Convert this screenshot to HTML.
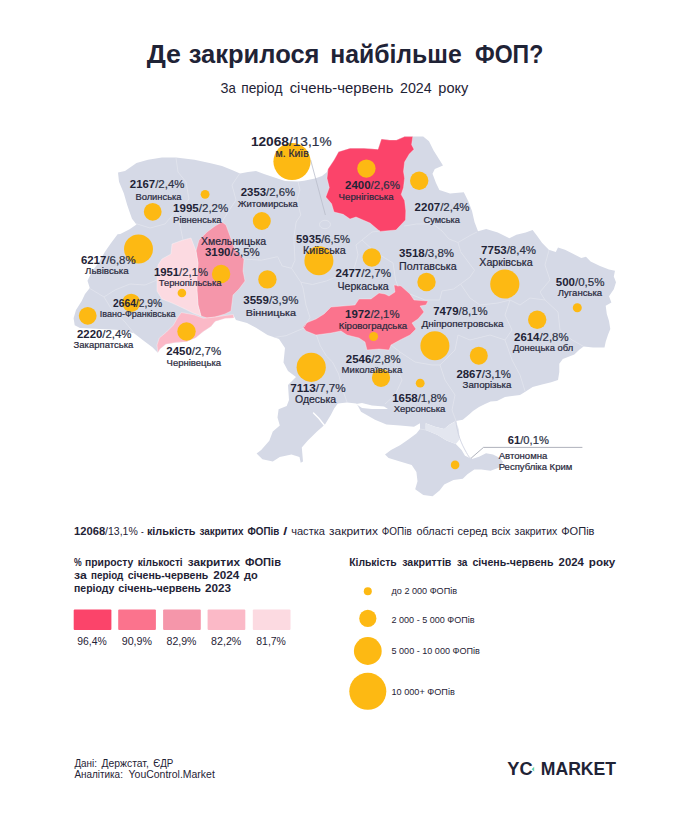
<!DOCTYPE html>
<html lang="uk"><head><meta charset="utf-8"><title>Де закрилося найбільше ФОП?</title>
<style>html,body{margin:0;padding:0;background:#fff}body{width:690px;height:819px;overflow:hidden}svg{display:block}text{font-family:"Liberation Sans",sans-serif;fill:#1f2336}.b{font-weight:700}</style></head><body>
<svg width="690" height="819" viewBox="0 0 690 819">
<rect width="690" height="819" fill="#fff"/>
<text class="b" x="146.7" y="63" font-size="25.2" textLength="34.3" lengthAdjust="spacingAndGlyphs">Де</text>
<text class="b" x="188.7" y="63" font-size="25.2" textLength="130.8" lengthAdjust="spacingAndGlyphs">закрилося</text>
<text class="b" x="330.2" y="63" font-size="25.2" textLength="131.5" lengthAdjust="spacingAndGlyphs">найбільше</text>
<text class="b" x="475" y="63" font-size="25.2" textLength="68.3" lengthAdjust="spacingAndGlyphs">ФОП?</text>
<text x="220.6" y="92.8" font-size="14.8" textLength="15.3" lengthAdjust="spacingAndGlyphs">За</text>
<text x="241.3" y="92.8" font-size="14.8" textLength="41.1" lengthAdjust="spacingAndGlyphs">період</text>
<text x="289.7" y="92.8" font-size="14.8" textLength="103.8" lengthAdjust="spacingAndGlyphs">січень-червень</text>
<text x="400" y="92.8" font-size="14.8" textLength="31.7" lengthAdjust="spacingAndGlyphs">2024</text>
<text x="438.3" y="92.8" font-size="14.8" textLength="30.0" lengthAdjust="spacingAndGlyphs">року</text>
<g stroke-linejoin="round">
<polygon points="118,172.5 125,171 136.5,163 148,159.7 162,157.4 176,157.6 194.5,159.7 210.7,163.2 222,166 232,170 240,173.5 248,172 256,171 264,174 273,177 285,181 298,181.5 304,180.8 315,178.6 322,176 327,172 328,169 334,160 338.6,151.7 350,148.2 364,148.2 378,149.3 381.4,139 389.6,140 396.5,140 404.6,136.6 412.8,136.6 423.2,136.6 429,141.2 433.6,150.5 439.4,159.8 443,165.6 434.8,169 432.5,173.7 436,183 439.4,190 450,193.4 463.8,192.2 468.4,201.5 472,211 474.5,222 478,231.2 486.2,229 497.8,232.4 509.4,238.2 516.4,234.7 525.7,232.4 532.6,230 537.2,236 542,242.8 548.8,249.8 555.8,252 558,247.5 565,249.8 572,253.3 581.3,258 586,256.7 590.6,261.4 600,266 609,269.5 615,270.7 613.8,276.4 616,282.2 613.8,289.2 609,296.2 611.4,302.5 605.7,305.8 606.8,314 609,321 610.3,329 608,334.8 605.7,341.7 604.5,347.5 593,347.5 583.6,346.4 579,350 574.3,354.5 562.8,359 559.3,363.8 559.3,372 558,380 551.2,382.3 542,384.6 532.6,387 525.7,391.6 520,395 505,397 497,401 490.6,401.5 485,404 479,407 473,411 469.7,414 462.8,419.7 455.8,421 450,424.3 444.2,429 435,426.7 425.7,423.2 425.7,430 437.2,434.8 446.5,440.6 455.8,444 461.6,450 465,455.7 472,459 479,456.8 486,453.3 493,454.5 500,458 503,462 500,467.2 490.6,470.7 481.3,469.6 474.3,469.6 467.4,474.2 462.8,478.8 453.5,480 444.2,484.6 439.6,490.4 432.6,496.2 423.3,495 415.2,489.3 417.5,481.2 416.4,472 411.7,465 400,461.4 388.6,458 385,454.5 391,450 400,445.2 408.3,439.4 416.4,433.6 420,429 420,423.2 414,426.7 400,425.5 386.4,424.4 375,419.8 361,411.7 358,406 356.3,403.6 347,402.4 337.8,403.6 334.3,408.2 330.8,415 325,424.4 317,431.4 307.6,440.7 301.8,447.6 303,461.5 300.7,462.7 299.5,457 291.4,454.6 279.8,457 272.8,461.5 262.4,459.2 256.6,453.4 261.2,450 269.3,440.7 272.8,431.4 279.8,425.6 277.5,417.5 278.6,409.3 286.7,406 289,400 288,385 296,377 288,371 283.5,362.5 285,348 279,339 267.5,335 256,327.7 247,323 236,320 233.5,315.5 225,318 215,321.5 211,326.6 203,331.7 195.7,337.8 186.5,341.7 176,342.4 165.7,344.3 160,349 157.8,352.8 152.4,347.2 143,340.3 134,333.3 120,330 100,329 80,328 74.7,325.2 73.6,318.3 76,310 81.7,301 85,294 89.8,288 87.5,280.7 92,271.4 99,262 105,251.7 110.7,243.6 117.6,234.3 120.3,233.9 129.6,229.3 136.5,224.6 132,218.8 129.6,212 127.2,205 123.8,193.3 119,181.7" fill="#d5d9e6"/>
<polygon points="338.6,151.7 350,148.2 364,148.2 378,149.3 381.4,139 389.6,140 396.5,140 404.6,136.6 412.8,136.6 411.6,144.7 414,149.3 409.3,154 404.6,162 403.5,171.4 404.6,178.3 403.5,187.6 401.2,194.6 404.6,200.4 405.8,210.8 405.5,220 396,230 380,231.4 370,223 356,217 350,219 343.2,214.3 334,212 331.6,203.8 325.8,197 329.3,187.6 327,178.3 328,169 334,160" fill="#fb446a" stroke="rgba(255,255,255,0.4)" stroke-width="0.8"/>
<polygon points="303,327 306,323 316,319 324,314 331,307 343,306 355,305 359,299 371,299 379,293 385,294 389,296 395,292 394,285 401,286 410,294 414,300 428,301 426,305 420,306 424,312 418,319 412,323 416,329 410,335 400,340 391,345 389,350 379,349 367,350 365,342 359,338 347,335 341,331 331,333 316,335 306,331" fill="#fb738d" stroke="rgba(255,255,255,0.4)" stroke-width="0.8"/>
<polygon points="222,222 226,225 230,236 235,250 244,259 243,271 245,281 239,289 233,295 231,311 225,314 215,317 207,318 201,316 198,305 197,291 197,277 198,263 196,251 199,240 207,232 215,226" fill="#f596aa" stroke="rgba(255,255,255,0.4)" stroke-width="0.8"/>
<polygon points="181.4,312.5 194,314.8 203.4,318.3 215,317.1 225,315.5 233.3,314.5 234,318 225,318.5 215,321.5 211,326.6 203,331.7 195.7,337.8 186.5,341.7 176,342.4 165.7,344.3 160,349 157.8,352.8 157,345 159.3,338 166.3,332.2 173.3,325.2 178,317" fill="#fbb9c7" stroke="rgba(255,255,255,0.4)" stroke-width="0.8"/>
<polygon points="196,251 191,238 183,240 172,244 171,254 162,259 158,265 157,277 157,291 162,299 172,303 185,309 193,313 201,316 198,305 197,291 197,277 198,263" fill="#fcdae1" stroke="rgba(255,255,255,0.4)" stroke-width="0.8"/>
</g>
<defs><clipPath id="uk"><polygon points="118,172.5 125,171 136.5,163 148,159.7 162,157.4 176,157.6 194.5,159.7 210.7,163.2 222,166 232,170 240,173.5 248,172 256,171 264,174 273,177 285,181 298,181.5 304,180.8 315,178.6 322,176 327,172 328,169 334,160 338.6,151.7 350,148.2 364,148.2 378,149.3 381.4,139 389.6,140 396.5,140 404.6,136.6 412.8,136.6 423.2,136.6 429,141.2 433.6,150.5 439.4,159.8 443,165.6 434.8,169 432.5,173.7 436,183 439.4,190 450,193.4 463.8,192.2 468.4,201.5 472,211 474.5,222 478,231.2 486.2,229 497.8,232.4 509.4,238.2 516.4,234.7 525.7,232.4 532.6,230 537.2,236 542,242.8 548.8,249.8 555.8,252 558,247.5 565,249.8 572,253.3 581.3,258 586,256.7 590.6,261.4 600,266 609,269.5 615,270.7 613.8,276.4 616,282.2 613.8,289.2 609,296.2 611.4,302.5 605.7,305.8 606.8,314 609,321 610.3,329 608,334.8 605.7,341.7 604.5,347.5 593,347.5 583.6,346.4 579,350 574.3,354.5 562.8,359 559.3,363.8 559.3,372 558,380 551.2,382.3 542,384.6 532.6,387 525.7,391.6 520,395 505,397 497,401 490.6,401.5 485,404 479,407 473,411 469.7,414 462.8,419.7 455.8,421 450,424.3 444.2,429 435,426.7 425.7,423.2 425.7,430 437.2,434.8 446.5,440.6 455.8,444 461.6,450 465,455.7 472,459 479,456.8 486,453.3 493,454.5 500,458 503,462 500,467.2 490.6,470.7 481.3,469.6 474.3,469.6 467.4,474.2 462.8,478.8 453.5,480 444.2,484.6 439.6,490.4 432.6,496.2 423.3,495 415.2,489.3 417.5,481.2 416.4,472 411.7,465 400,461.4 388.6,458 385,454.5 391,450 400,445.2 408.3,439.4 416.4,433.6 420,429 420,423.2 414,426.7 400,425.5 386.4,424.4 375,419.8 361,411.7 358,406 356.3,403.6 347,402.4 337.8,403.6 334.3,408.2 330.8,415 325,424.4 317,431.4 307.6,440.7 301.8,447.6 303,461.5 300.7,462.7 299.5,457 291.4,454.6 279.8,457 272.8,461.5 262.4,459.2 256.6,453.4 261.2,450 269.3,440.7 272.8,431.4 279.8,425.6 277.5,417.5 278.6,409.3 286.7,406 289,400 288,385 296,377 288,371 283.5,362.5 285,348 279,339 267.5,335 256,327.7 247,323 236,320 233.5,315.5 225,318 215,321.5 211,326.6 203,331.7 195.7,337.8 186.5,341.7 176,342.4 165.7,344.3 160,349 157.8,352.8 152.4,347.2 143,340.3 134,333.3 120,330 100,329 80,328 74.7,325.2 73.6,318.3 76,310 81.7,301 85,294 89.8,288 87.5,280.7 92,271.4 99,262 105,251.7 110.7,243.6 117.6,234.3 120.3,233.9 129.6,229.3 136.5,224.6 132,218.8 129.6,212 127.2,205 123.8,193.3 119,181.7"/></clipPath></defs>
<g clip-path="url(#uk)" fill="none" stroke="#e2e5ee" stroke-width="0.8" stroke-linejoin="round">
<polyline points="176,158 178,172 186,182 189,199 183,206 176,211"/>
<polyline points="134,223 150,228 165,224 176,211 180,225 183,240"/>
<polyline points="240,173 232,185 236,200 228,212 222,222"/>
<polyline points="157,280 145,285 130,284 115,290 104,297 89,288"/>
<polyline points="104,297 112,310 125,322 134,333"/>
<polyline points="244,259 261.4,260.2 277.6,256.7 282.2,266 291.5,268.3 295,260.2 293.8,238.2 296.2,222 300.8,215 297,200 300,190 298,181.5"/>
<polyline points="291.5,268.3 300.8,282.2 312.4,284.5 326.3,281 340.2,275.3 354.1,268.3 358,255 356,245 362,240 372,232 380,231"/>
<polyline points="300.8,282.2 303,288 306,305 310,317.5 304,327"/>
<polyline points="304,328 286,335.7 272.7,337.7"/>
<polyline points="362,240 375,252 393,263 395.6,280 398,286.5"/>
<polyline points="404,226 416.5,224 433,224 442,231 449,239 458,242.5 470,235.5 477,232"/>
<polyline points="458,242.5 460.6,251.7 467.5,261 474.5,270.3 470,277 460.6,284 453.6,289 442,291 439.7,300"/>
<polyline points="410,294 425,300 439.7,300"/>
<polyline points="549,250 545,265 550,280 540,292 545,300 530,298 520,305 510,300 498,303 480,305 470,298 460.6,284"/>
<polyline points="545,300 558,312 560,330 572,340 583,346"/>
<polyline points="510,300 505,315 512,330 505,340 490,335 470,340 458,335 455,350 440,365 432,365 415,362 400,352 391,345"/>
<polyline points="505,340 512,360 520,375 525,391"/>
<polyline points="440,365 445,380 455,395 452,410 456,421"/>
<polyline points="400,352 395,365 402,380 395,395 385,404"/>
<polyline points="316.4,334.9 320.3,345.8 326.4,356 332.5,362 338.6,374 342,388 347,402"/>
<polyline points="420,429 426,430"/>
</g>
<polygon points="426,423.5 435,426.7 444,429 450,424.5 456,421 459,430 459.5,439.5 455.8,444 446.5,440.6 437.2,434.8 426,430.2" fill="#e3e6ef"/>
<path d="M455.8,421 C457,430 459,439 465,450 S470,457 472,458.5" fill="none" stroke="#cfd3e1" stroke-width="0.9"/>
<polygon points="356,404 362,403 372,405.5 384,406.5 388,409 372,409 362,408" fill="#fff"/>
<path d="M313.5,413 L319,418.5 L324.5,425.5" fill="none" stroke="#fff" stroke-width="1.4" stroke-linecap="round"/>
<ellipse cx="325" cy="224.5" rx="5.5" ry="4.2" fill="none" stroke="#e2e5ee" stroke-width="0.8"/>
<path d="M310.6,159.8 L325.4,215" stroke="#b9bdca" stroke-width="0.8" fill="none"/>
<path d="M582.4,447.4 L483.5,447.4 L471.3,458" stroke="#9a9eab" stroke-width="0.8" fill="none"/>
<circle cx="292" cy="161.5" r="18.6" fill="#fdb913"/>
<circle cx="366.4" cy="168.6" r="9.2" fill="#fdb913"/>
<circle cx="419.2" cy="180.7" r="9.2" fill="#fdb913"/>
<circle cx="152.7" cy="211.8" r="8.9" fill="#fdb913"/>
<circle cx="205.1" cy="194.3" r="4.4" fill="#fdb913"/>
<circle cx="261.8" cy="221" r="9" fill="#fdb913"/>
<circle cx="138.5" cy="248.9" r="14.5" fill="#fdb913"/>
<circle cx="221.1" cy="274" r="9.2" fill="#fdb913"/>
<circle cx="181.9" cy="293" r="4.3" fill="#fdb913"/>
<circle cx="267.4" cy="279.4" r="9.2" fill="#fdb913"/>
<circle cx="318.9" cy="260.7" r="14.5" fill="#fdb913"/>
<circle cx="371.8" cy="257.5" r="9.2" fill="#fdb913"/>
<circle cx="426.5" cy="282" r="9.2" fill="#fdb913"/>
<circle cx="504.8" cy="284" r="14.6" fill="#fdb913"/>
<circle cx="577.3" cy="307.7" r="4.5" fill="#fdb913"/>
<circle cx="537.2" cy="319.7" r="9.2" fill="#fdb913"/>
<circle cx="434.9" cy="345.8" r="14.5" fill="#fdb913"/>
<circle cx="478.8" cy="355.7" r="9" fill="#fdb913"/>
<circle cx="373.6" cy="336.5" r="4.5" fill="#fdb913"/>
<circle cx="381" cy="377.8" r="9.1" fill="#fdb913"/>
<circle cx="420.2" cy="383.2" r="4.4" fill="#fdb913"/>
<circle cx="311.2" cy="367.3" r="14.6" fill="#fdb913"/>
<circle cx="455.1" cy="464.9" r="4.3" fill="#fdb913"/>
<circle cx="131.2" cy="302.8" r="9.1" fill="#fdb913"/>
<circle cx="87.7" cy="315.8" r="8.9" fill="#fdb913"/>
<circle cx="186.5" cy="331.5" r="9.2" fill="#fdb913"/>
<text x="250.9" y="146" font-size="13.42" textLength="80.7" lengthAdjust="spacingAndGlyphs"><tspan class="b">12068</tspan><tspan fill="#2c3145" stroke="#2c3145" stroke-width="0.2">/13,1%</tspan></text>
<text x="129.8" y="188.2" font-size="11.20" textLength="54.6" lengthAdjust="spacingAndGlyphs"><tspan class="b">2167</tspan><tspan fill="#2c3145" stroke="#2c3145" stroke-width="0.2">/2,4%</tspan></text>
<text x="173.1" y="211.8" font-size="11.31" textLength="55.2" lengthAdjust="spacingAndGlyphs"><tspan class="b">1995</tspan><tspan fill="#2c3145" stroke="#2c3145" stroke-width="0.2">/2,2%</tspan></text>
<text x="240.8" y="196.1" font-size="11.20" textLength="54.4" lengthAdjust="spacingAndGlyphs"><tspan class="b">2353</tspan><tspan fill="#2c3145" stroke="#2c3145" stroke-width="0.2">/2,6%</tspan></text>
<text x="204.9" y="256.2" font-size="11.23" textLength="54.8" lengthAdjust="spacingAndGlyphs"><tspan class="b">3190</tspan><tspan fill="#2c3145" stroke="#2c3145" stroke-width="0.2">/3,5%</tspan></text>
<text x="296.1" y="243.2" font-size="11.20" textLength="53.9" lengthAdjust="spacingAndGlyphs"><tspan class="b">5935</tspan><tspan fill="#2c3145" stroke="#2c3145" stroke-width="0.2">/6,5%</tspan></text>
<text x="80.9" y="263.6" font-size="11.21" textLength="54.7" lengthAdjust="spacingAndGlyphs"><tspan class="b">6217</tspan><tspan fill="#2c3145" stroke="#2c3145" stroke-width="0.2">/6,8%</tspan></text>
<text x="153.9" y="276.2" font-size="11.20" textLength="54.1" lengthAdjust="spacingAndGlyphs"><tspan class="b">1951</tspan><tspan fill="#2c3145" stroke="#2c3145" stroke-width="0.2">/2,1%</tspan></text>
<text x="113" y="306.6" font-size="11.20" textLength="49.1" lengthAdjust="spacingAndGlyphs"><tspan class="b">2664</tspan><tspan fill="#2c3145" stroke="#2c3145" stroke-width="0.2">/2,9%</tspan></text>
<text x="243.3" y="303.6" font-size="11.29" textLength="55.1" lengthAdjust="spacingAndGlyphs"><tspan class="b">3559</tspan><tspan fill="#2c3145" stroke="#2c3145" stroke-width="0.2">/3,9%</tspan></text>
<text x="345" y="188.8" font-size="11.27" textLength="55" lengthAdjust="spacingAndGlyphs"><tspan class="b">2400</tspan><tspan fill="#2c3145" stroke="#2c3145" stroke-width="0.2">/2,6%</tspan></text>
<text x="414.6" y="210.8" font-size="11.27" textLength="55.0" lengthAdjust="spacingAndGlyphs"><tspan class="b">2207</tspan><tspan fill="#2c3145" stroke="#2c3145" stroke-width="0.2">/2,4%</tspan></text>
<text x="399.1" y="257.1" font-size="11.27" textLength="55.0" lengthAdjust="spacingAndGlyphs"><tspan class="b">3518</tspan><tspan fill="#2c3145" stroke="#2c3145" stroke-width="0.2">/3,8%</tspan></text>
<text x="481.1" y="254.4" font-size="11.27" textLength="55.0" lengthAdjust="spacingAndGlyphs"><tspan class="b">7753</tspan><tspan fill="#2c3145" stroke="#2c3145" stroke-width="0.2">/8,4%</tspan></text>
<text x="555.8" y="285.7" font-size="11.29" textLength="48.7" lengthAdjust="spacingAndGlyphs"><tspan class="b">500</tspan><tspan fill="#2c3145" stroke="#2c3145" stroke-width="0.2">/0,5%</tspan></text>
<text x="335.5" y="277.2" font-size="11.37" textLength="55.5" lengthAdjust="spacingAndGlyphs"><tspan class="b">2477</tspan><tspan fill="#2c3145" stroke="#2c3145" stroke-width="0.2">/2,7%</tspan></text>
<text x="345.1" y="318.3" font-size="11.20" textLength="54.5" lengthAdjust="spacingAndGlyphs"><tspan class="b">1972</tspan><tspan fill="#2c3145" stroke="#2c3145" stroke-width="0.2">/2,1%</tspan></text>
<text x="433.2" y="314.8" font-size="11.20" textLength="54.5" lengthAdjust="spacingAndGlyphs"><tspan class="b">7479</tspan><tspan fill="#2c3145" stroke="#2c3145" stroke-width="0.2">/8,1%</tspan></text>
<text x="514.1" y="340.6" font-size="11.20" textLength="54.5" lengthAdjust="spacingAndGlyphs"><tspan class="b">2614</tspan><tspan fill="#2c3145" stroke="#2c3145" stroke-width="0.2">/2,8%</tspan></text>
<text x="345.8" y="362.6" font-size="11.25" textLength="54.9" lengthAdjust="spacingAndGlyphs"><tspan class="b">2546</tspan><tspan fill="#2c3145" stroke="#2c3145" stroke-width="0.2">/2,8%</tspan></text>
<text x="456.4" y="377.7" font-size="11.20" textLength="54.6" lengthAdjust="spacingAndGlyphs"><tspan class="b">2867</tspan><tspan fill="#2c3145" stroke="#2c3145" stroke-width="0.2">/3,1%</tspan></text>
<text x="392.2" y="402.3" font-size="11.23" textLength="54.8" lengthAdjust="spacingAndGlyphs"><tspan class="b">1658</tspan><tspan fill="#2c3145" stroke="#2c3145" stroke-width="0.2">/1,8%</tspan></text>
<text x="507.8" y="443.5" font-size="11.20" textLength="41.1" lengthAdjust="spacingAndGlyphs"><tspan class="b">61</tspan><tspan fill="#2c3145" stroke="#2c3145" stroke-width="0.2">/0,1%</tspan></text>
<text x="77" y="338" font-size="11.20" textLength="54.5" lengthAdjust="spacingAndGlyphs"><tspan class="b">2220</tspan><tspan fill="#2c3145" stroke="#2c3145" stroke-width="0.2">/2,4%</tspan></text>
<text x="166.3" y="354.8" font-size="11.23" textLength="54.8" lengthAdjust="spacingAndGlyphs"><tspan class="b">2450</tspan><tspan fill="#2c3145" stroke="#2c3145" stroke-width="0.2">/2,7%</tspan></text>
<text x="290.3" y="391.5" font-size="11.49" textLength="55.4" lengthAdjust="spacingAndGlyphs"><tspan class="b">7113</tspan><tspan fill="#2c3145" stroke="#2c3145" stroke-width="0.2">/7,7%</tspan></text>
<text x="275.5" y="156.7" font-size="10.22" textLength="33.3" lengthAdjust="spacingAndGlyphs" fill="#30354a" stroke="#30354a" stroke-width="0.22">м. Київ</text>
<text x="135.4" y="199.9" font-size="9.18" textLength="46.2" lengthAdjust="spacingAndGlyphs" fill="#30354a" stroke="#30354a" stroke-width="0.22">Волинська</text>
<text x="173.1" y="222.5" font-size="9.27" textLength="48.4" lengthAdjust="spacingAndGlyphs" fill="#30354a" stroke="#30354a" stroke-width="0.22">Рівненська</text>
<text x="237.8" y="207.4" font-size="9.30" textLength="60.0" lengthAdjust="spacingAndGlyphs" fill="#30354a" stroke="#30354a" stroke-width="0.22">Житомирська</text>
<text x="200.9" y="244.6" font-size="10.32" textLength="65.3" lengthAdjust="spacingAndGlyphs" fill="#30354a" stroke="#30354a" stroke-width="0.22">Хмельницька</text>
<text x="303" y="254.4" font-size="10.53" textLength="42.7" lengthAdjust="spacingAndGlyphs" fill="#30354a" stroke="#30354a" stroke-width="0.22">Київська</text>
<text x="85.1" y="274.2" font-size="9.52" textLength="43.6" lengthAdjust="spacingAndGlyphs" fill="#30354a" stroke="#30354a" stroke-width="0.22">Львівська</text>
<text x="158.7" y="285.7" font-size="9.21" textLength="62.8" lengthAdjust="spacingAndGlyphs" fill="#30354a" stroke="#30354a" stroke-width="0.22">Тернопільська</text>
<text x="99.8" y="316.5" font-size="9.00" textLength="75.8" lengthAdjust="spacingAndGlyphs" fill="#30354a" stroke="#30354a" stroke-width="0.22">Івано-Франківська</text>
<text x="245.7" y="315.8" font-size="9.60" textLength="50.3" lengthAdjust="spacingAndGlyphs" fill="#30354a" stroke="#30354a" stroke-width="0.22">Вінницька</text>
<text x="338.6" y="199.7" font-size="9.48" textLength="55.1" lengthAdjust="spacingAndGlyphs" fill="#30354a" stroke="#30354a" stroke-width="0.22">Чернігівська</text>
<text x="423.5" y="222.5" font-size="9.09" textLength="36.5" lengthAdjust="spacingAndGlyphs" fill="#30354a" stroke="#30354a" stroke-width="0.22">Сумська</text>
<text x="399.1" y="269.8" font-size="10.44" textLength="57.5" lengthAdjust="spacingAndGlyphs" fill="#30354a" stroke="#30354a" stroke-width="0.22">Полтавська</text>
<text x="479.3" y="266" font-size="10.46" textLength="53.3" lengthAdjust="spacingAndGlyphs" fill="#30354a" stroke="#30354a" stroke-width="0.22">Харківська</text>
<text x="557.7" y="296.2" font-size="9.37" textLength="44.5" lengthAdjust="spacingAndGlyphs" fill="#30354a" stroke="#30354a" stroke-width="0.22">Луганська</text>
<text x="337.5" y="290" font-size="10.39" textLength="51.2" lengthAdjust="spacingAndGlyphs" fill="#30354a" stroke="#30354a" stroke-width="0.22">Черкаська</text>
<text x="338.8" y="329" font-size="9.45" textLength="68.4" lengthAdjust="spacingAndGlyphs" fill="#30354a" stroke="#30354a" stroke-width="0.22">Кіровоградська</text>
<text x="421.6" y="326.5" font-size="9.60" textLength="81.9" lengthAdjust="spacingAndGlyphs" fill="#30354a" stroke="#30354a" stroke-width="0.22">Дніпропетровська</text>
<text x="512.9" y="350.5" font-size="9.22" textLength="60.3" lengthAdjust="spacingAndGlyphs" fill="#30354a" stroke="#30354a" stroke-width="0.22">Донецька обл</text>
<text x="341.6" y="372.6" font-size="9.37" textLength="60.7" lengthAdjust="spacingAndGlyphs" fill="#30354a" stroke="#30354a" stroke-width="0.22">Миколаївська</text>
<text x="462.6" y="387.5" font-size="9.52" textLength="48.9" lengthAdjust="spacingAndGlyphs" fill="#30354a" stroke="#30354a" stroke-width="0.22">Запорізька</text>
<text x="393.7" y="412.4" font-size="9.32" textLength="51.7" lengthAdjust="spacingAndGlyphs" fill="#30354a" stroke="#30354a" stroke-width="0.22">Херсонська</text>
<text x="498.7" y="459.2" font-size="9.39" textLength="48.7" lengthAdjust="spacingAndGlyphs" fill="#30354a" stroke="#30354a" stroke-width="0.22">Автономна</text>
<text x="498.7" y="470.3" font-size="9.31" textLength="73.6" lengthAdjust="spacingAndGlyphs" fill="#30354a" stroke="#30354a" stroke-width="0.22">Республіка Крим</text>
<text x="73.6" y="347.8" font-size="9.32" textLength="59.8" lengthAdjust="spacingAndGlyphs" fill="#30354a" stroke="#30354a" stroke-width="0.22">Закарпатська</text>
<text x="166.6" y="365.5" font-size="9.31" textLength="54.5" lengthAdjust="spacingAndGlyphs" fill="#30354a" stroke="#30354a" stroke-width="0.22">Чернівецька</text>
<text x="295" y="403.3" font-size="10.27" textLength="41.2" lengthAdjust="spacingAndGlyphs" fill="#30354a" stroke="#30354a" stroke-width="0.22">Одеська</text>
<text class="b" x="74" y="535.3" font-size="11" textLength="31.1" lengthAdjust="spacingAndGlyphs">12068</text>
<text x="105.1" y="535.3" font-size="11" textLength="32.7" lengthAdjust="spacingAndGlyphs">/13,1%</text>
<text x="141" y="535.3" font-size="11" textLength="2.7" lengthAdjust="spacingAndGlyphs">-</text>
<text class="b" x="146.9" y="535.3" font-size="11" textLength="48.6" lengthAdjust="spacingAndGlyphs">кількість</text>
<text class="b" x="199.5" y="535.3" font-size="11" textLength="43.9" lengthAdjust="spacingAndGlyphs">закритих</text>
<text class="b" x="247.4" y="535.3" font-size="11" textLength="31.8" lengthAdjust="spacingAndGlyphs">ФОПів</text>
<text class="b" x="283.2" y="535.3" font-size="11" textLength="4.0" lengthAdjust="spacingAndGlyphs">/</text>
<text x="291.2" y="535.3" font-size="11" textLength="33.8" lengthAdjust="spacingAndGlyphs">частка</text>
<text x="329" y="535.3" font-size="11" textLength="48.9" lengthAdjust="spacingAndGlyphs">закритих</text>
<text x="381.8" y="535.3" font-size="11" textLength="29.9" lengthAdjust="spacingAndGlyphs">ФОПів</text>
<text x="416.5" y="535.3" font-size="11" textLength="37.1" lengthAdjust="spacingAndGlyphs">області</text>
<text x="457.6" y="535.3" font-size="11" textLength="29.9" lengthAdjust="spacingAndGlyphs">серед</text>
<text x="491.5" y="535.3" font-size="11" textLength="19.1" lengthAdjust="spacingAndGlyphs">всіх</text>
<text x="514.6" y="535.3" font-size="11" textLength="42.6" lengthAdjust="spacingAndGlyphs">закритих</text>
<text x="561.2" y="535.3" font-size="11" textLength="33.3" lengthAdjust="spacingAndGlyphs">ФОПів</text>
<text class="b" x="74" y="566" font-size="11" textLength="7.7" lengthAdjust="spacingAndGlyphs">%</text>
<text class="b" x="85" y="566" font-size="11" textLength="48.3" lengthAdjust="spacingAndGlyphs">приросту</text>
<text class="b" x="137.7" y="566" font-size="11" textLength="45.0" lengthAdjust="spacingAndGlyphs">кількості</text>
<text class="b" x="187.7" y="566" font-size="11" textLength="52.3" lengthAdjust="spacingAndGlyphs">закритих</text>
<text class="b" x="245" y="566" font-size="11" textLength="36" lengthAdjust="spacingAndGlyphs">ФОПів</text>
<text class="b" x="74" y="579" font-size="11" textLength="12.7" lengthAdjust="spacingAndGlyphs">за</text>
<text class="b" x="91" y="579" font-size="11" textLength="32.3" lengthAdjust="spacingAndGlyphs">період</text>
<text class="b" x="127.7" y="579" font-size="11" textLength="80.6" lengthAdjust="spacingAndGlyphs">січень-червень</text>
<text class="b" x="213.3" y="579" font-size="11" textLength="26.0" lengthAdjust="spacingAndGlyphs">2024</text>
<text class="b" x="244" y="579" font-size="11" textLength="13.7" lengthAdjust="spacingAndGlyphs">до</text>
<text class="b" x="74" y="592.3" font-size="11" textLength="40.3" lengthAdjust="spacingAndGlyphs">періоду</text>
<text class="b" x="118.3" y="592.3" font-size="11" textLength="82.7" lengthAdjust="spacingAndGlyphs">січень-червень</text>
<text class="b" x="205" y="592.3" font-size="11" textLength="26" lengthAdjust="spacingAndGlyphs">2023</text>
<rect x="73.7" y="609.6" width="37.7" height="20.4" rx="1" fill="#fb446a"/>
<text x="77.2" y="645.2" font-size="10.6" textLength="29.5" lengthAdjust="spacingAndGlyphs">96,4%</text>
<rect x="118.2" y="609.6" width="37.7" height="20.4" rx="1" fill="#fb738d"/>
<text x="121.7" y="645.2" font-size="10.6" textLength="30.3" lengthAdjust="spacingAndGlyphs">90,9%</text>
<rect x="163.1" y="609.6" width="37.7" height="20.4" rx="1" fill="#f596aa"/>
<text x="166.6" y="645.2" font-size="10.6" textLength="29.9" lengthAdjust="spacingAndGlyphs">82,9%</text>
<rect x="207.6" y="609.6" width="37.7" height="20.4" rx="1" fill="#fbb9c7"/>
<text x="211.1" y="645.2" font-size="10.6" textLength="30.2" lengthAdjust="spacingAndGlyphs">82,2%</text>
<rect x="252.8" y="609.6" width="37.7" height="20.4" rx="1" fill="#fcdae1"/>
<text x="256.3" y="645.2" font-size="10.6" textLength="29.6" lengthAdjust="spacingAndGlyphs">81,7%</text>
<text class="b" x="349.2" y="566.3" font-size="11" textLength="47.5" lengthAdjust="spacingAndGlyphs">Кількість</text>
<text class="b" x="402.2" y="566.3" font-size="11" textLength="49.2" lengthAdjust="spacingAndGlyphs">закриттів</text>
<text class="b" x="456.9" y="566.3" font-size="11" textLength="10.5" lengthAdjust="spacingAndGlyphs">за</text>
<text class="b" x="472.4" y="566.3" font-size="11" textLength="81.1" lengthAdjust="spacingAndGlyphs">січень-червень</text>
<text class="b" x="558.6" y="566.3" font-size="11" textLength="25.2" lengthAdjust="spacingAndGlyphs">2024</text>
<text class="b" x="588.8" y="566.3" font-size="11" textLength="26.5" lengthAdjust="spacingAndGlyphs">року</text>
<circle cx="367.8" cy="591.2" r="4" fill="#fdb913"/>
<circle cx="367.8" cy="618.4" r="8.6" fill="#fdb913"/>
<circle cx="367.8" cy="651" r="13.9" fill="#fdb913"/>
<circle cx="367.8" cy="691.3" r="18.5" fill="#fdb913"/>
<text x="391.5" y="594" font-size="9.2" textLength="65.60000000000002" lengthAdjust="spacingAndGlyphs">до 2 000 ФОПів</text>
<text x="391.5" y="622.5" font-size="9.2" textLength="83.0" lengthAdjust="spacingAndGlyphs">2 000 - 5 000 ФОПів</text>
<text x="391.5" y="653.8" font-size="9.2" textLength="88.30000000000001" lengthAdjust="spacingAndGlyphs">5 000 - 10 000 ФОПів</text>
<text x="391.5" y="694.8" font-size="9.2" textLength="63.30000000000001" lengthAdjust="spacingAndGlyphs">10 000+ ФОПів</text>
<text x="74.4" y="766.8" font-size="10.4" textLength="22.6" lengthAdjust="spacingAndGlyphs" fill="#33374a">Дані:</text>
<text x="101.5" y="766.8" font-size="10.4" textLength="47.3" lengthAdjust="spacingAndGlyphs" fill="#33374a">Держстат,</text>
<text x="153.2" y="766.8" font-size="10.4" textLength="20.2" lengthAdjust="spacingAndGlyphs" fill="#33374a">ЄДР</text>
<text x="74.4" y="778.3" font-size="10.4" textLength="48.5" lengthAdjust="spacingAndGlyphs" fill="#33374a">Аналітика:</text>
<text x="128.6" y="778.3" font-size="10.4" textLength="86.2" lengthAdjust="spacingAndGlyphs" fill="#33374a">YouControl.Market</text>
<text class="b" x="507.2" y="774.6" font-size="17.6" textLength="25.4" lengthAdjust="spacingAndGlyphs" fill="#1d2233">YC</text>
<text class="b" x="540.8" y="774.6" font-size="17.6" textLength="75.2" lengthAdjust="spacingAndGlyphs" fill="#1d2233">MARKET</text>
<polygon points="531.6,769.2 534.2,766.8 534.2,771.4" fill="#62d2b4"/>
</svg></body></html>
